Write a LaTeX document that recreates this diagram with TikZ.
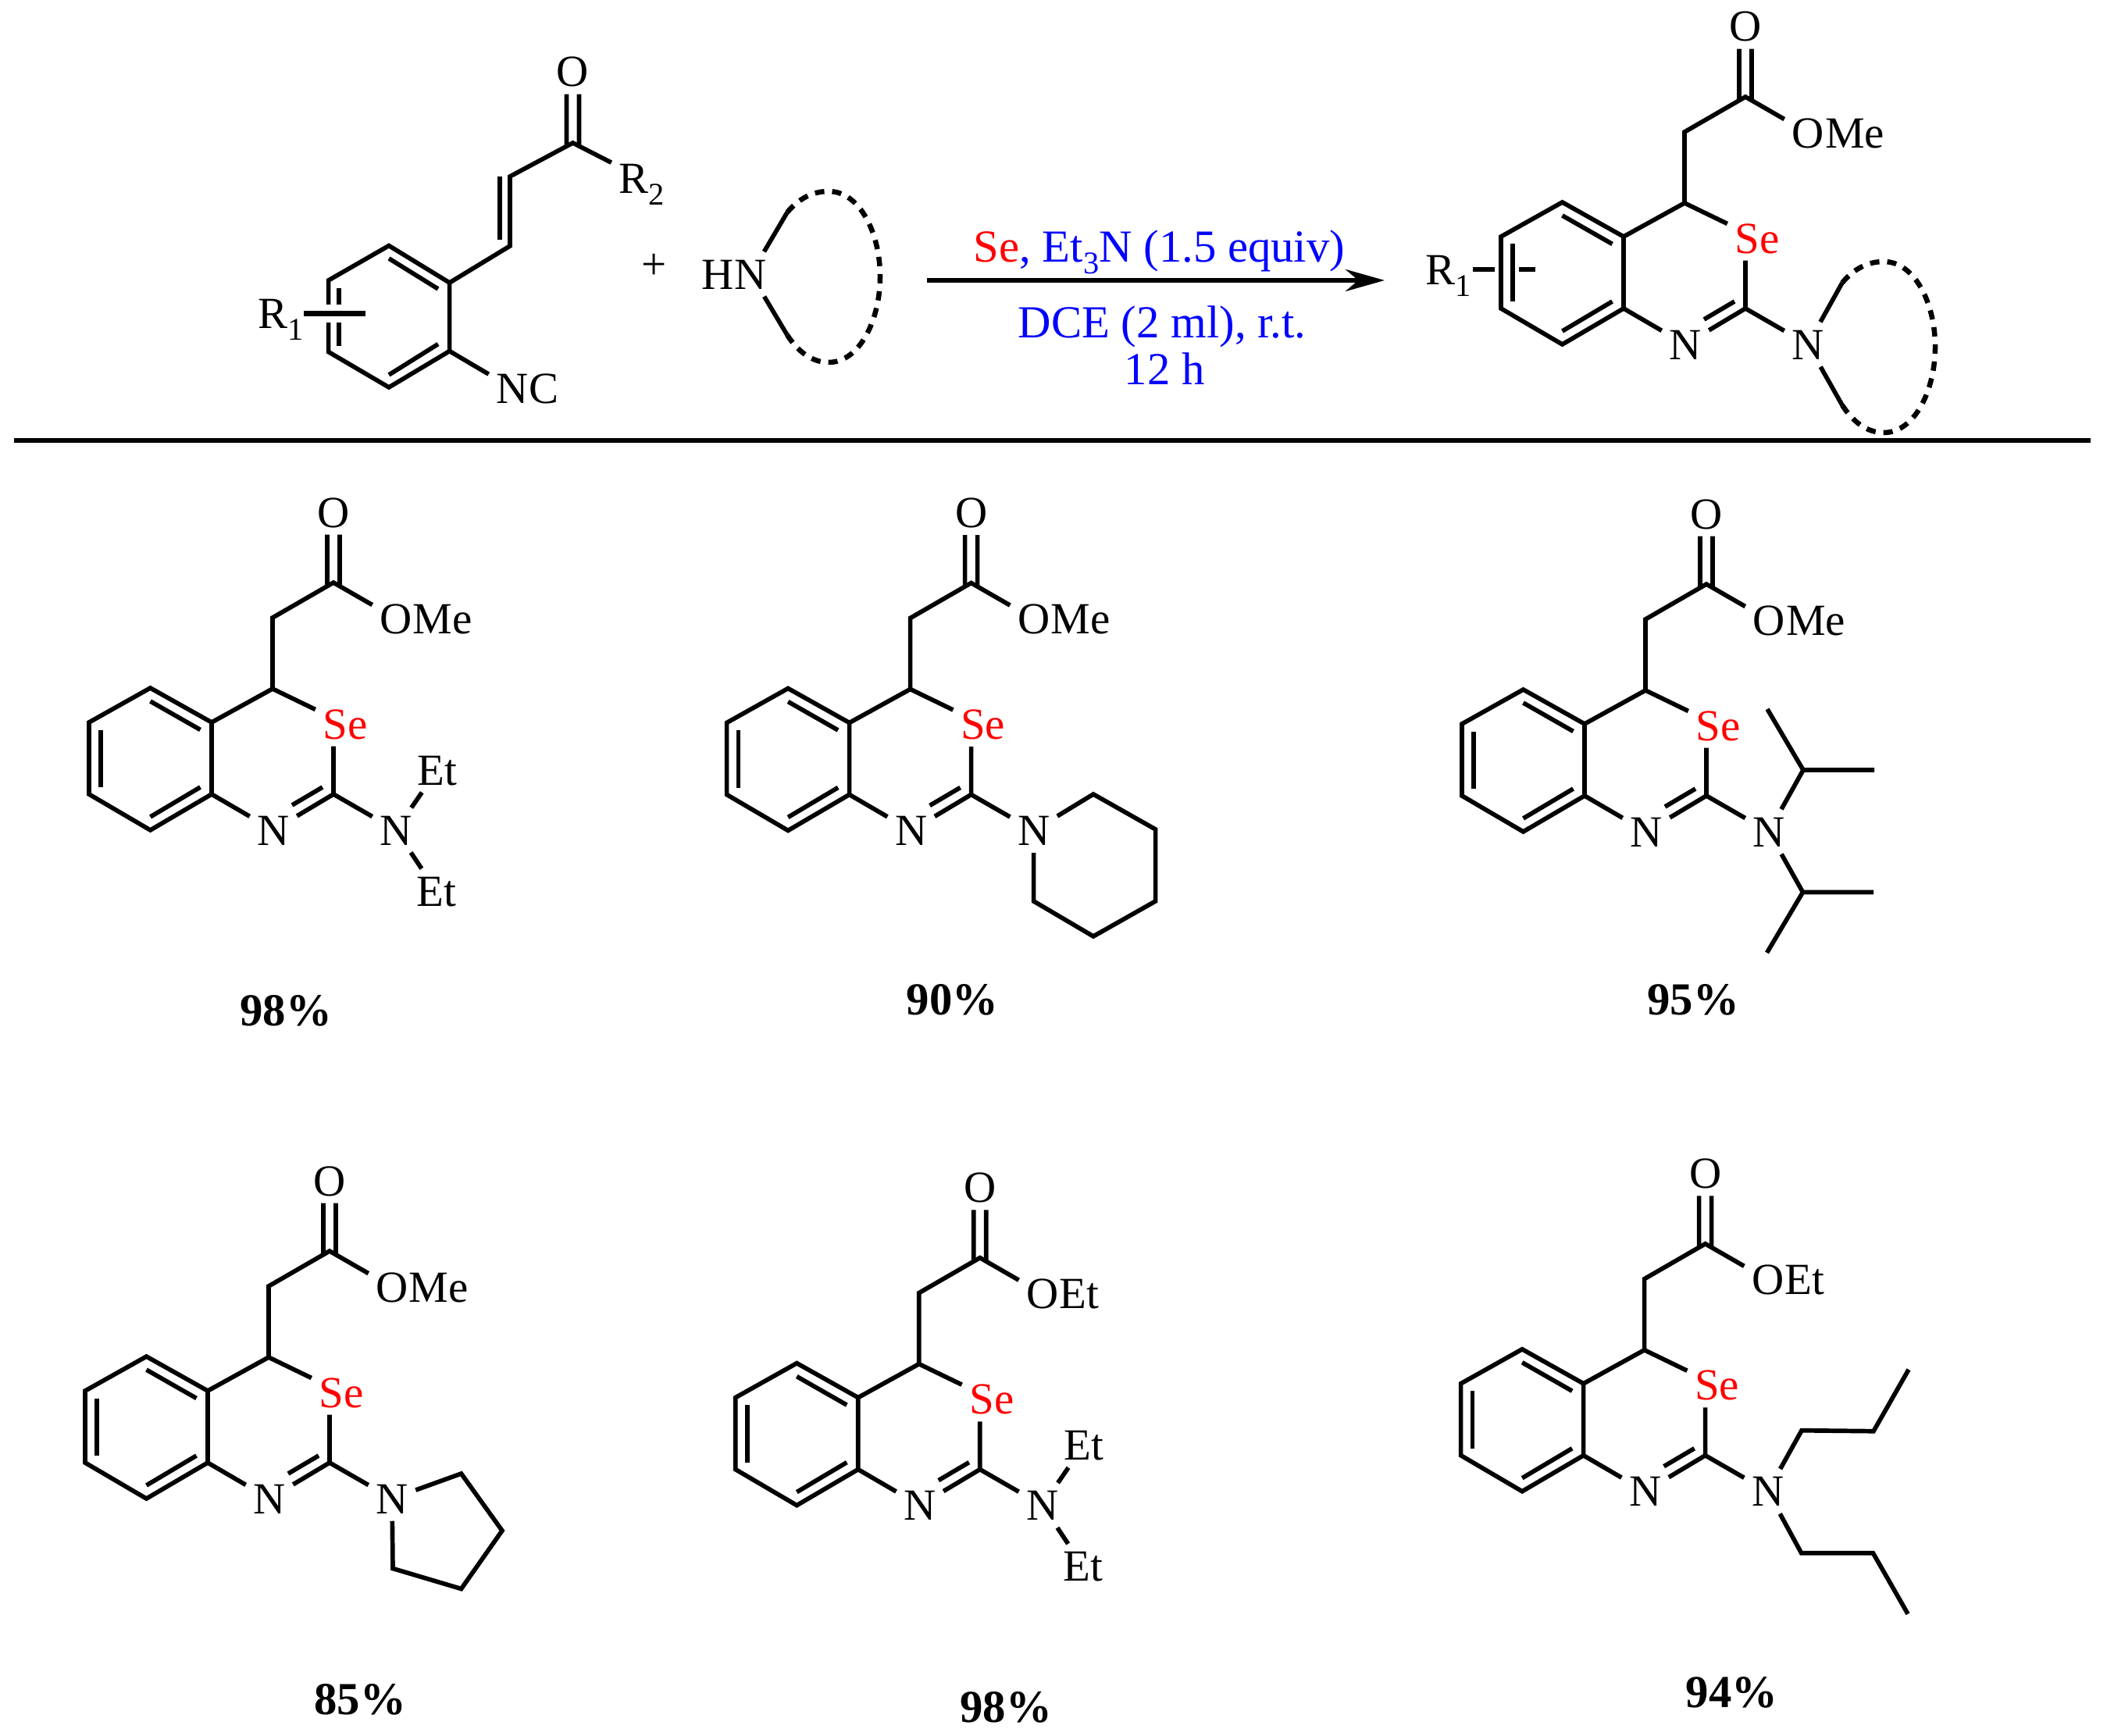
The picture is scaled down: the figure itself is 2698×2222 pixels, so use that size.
\documentclass[tikz,border=0pt]{standalone}
\usepackage{fontspec}
\usepackage{tikz}
\usetikzlibrary{arrows.meta}
\setmainfont{Liberation Serif}

\newcommand{\lowi}[1]{\raisebox{-0.15cm}{\fontsize{11.5}{12}\selectfont #1}}

\newcommand{\selenocore}[4]{%
  \begin{scope}[shift={(#2,#3)}]
    \coordinate (#1ch) at (0,0);
    \coordinate (#1ch2) at (0,-91);
    \coordinate (#1co) at (78,-136);
    \coordinate (#1a) at (-78,43);
    \coordinate (#1b) at (-78,135);
    \coordinate (#1c) at (-156.5,-1);
    \coordinate (#1d) at (-235,43);
    \coordinate (#1e) at (-235,135);
    \coordinate (#1f) at (-156.5,181);
    \coordinate (#1c2) at (78,135);
    \node[atom] (#1o) at (78,-226) {O};
    \node[atom] (#1oe) at (158,-90) {O};
    \node[tail] (#1oet) at ([xshift=-0.09cm]#1oe.base east) {#4};
    \node[atom,text=red] (#1se) at (93,45) {Se};
    \node[atom] (#1n) at (1,181) {N};
    \node[atom] (#1na) at (158,181) {N};
    \draw[bond] (#1ch) -- (#1ch2) -- (#1co) -- (#1oe);
    \draw[bond] ([shift={(-8,4)}]#1co) -- ([xshift=-0.08cm]#1o.south);
    \draw[bond] ([shift={(8,4)}]#1co) -- ([xshift=0.08cm]#1o.south);
    \draw[bond] (#1a) -- (#1c) -- (#1d) -- (#1e) -- (#1f) -- (#1b) -- cycle;
    \draw[bond] (#1a) -- (#1ch) -- (#1se);
    \draw[bond] (#1b) -- (#1n);
    \draw[bond] (#1c2 |- #1se.south) -- (#1c2) -- (#1n);
    \draw[bond] (#1c2) -- (#1na);
    \coordinate (#1i1) at (-156.5,16);
    \coordinate (#1i2) at (-92.5,52.5);
    \coordinate (#1i3) at (-220,52.5);
    \coordinate (#1i4) at (-220,126);
    \coordinate (#1i5) at (-156.5,164);
    \coordinate (#1i6) at (-92.5,126);
    \coordinate (#1i7) at (64,126);
    \coordinate (#1i8) at (25,149);
    \draw[bond] (#1i1) -- (#1i2);
    \draw[bond] (#1i3) -- (#1i4);
    \draw[bond] (#1i5) -- (#1i6);
    \draw[bond] (#1i7) -- (#1i8);
  \end{scope}}

\newcommand{\amineloop}[3]{%
  \begin{scope}[shift={(#2,#3)}]
    \coordinate (#1ls) at (-53,-82);
    \coordinate (#1le) at (-53,75);
    \draw[line width=0.065cm,dash pattern=on 0.12cm off 0.1cm] (#1ls) .. controls (-38,-100) and (-20,-109) .. (0,-109)
      .. controls (40,-109) and (66,-55) .. (66,0)
      .. controls (66,55) and (40,110) .. (0,110)
      .. controls (-20,110) and (-38,98) .. (#1le);
  \end{scope}}

\newcommand{\diethyl}[1]{%
  \node[atom] (#1eta) at ([shift={(211,104)}]#1ch) {Et};
  \node[atom] (#1etb) at ([shift={(210,259)}]#1ch) {Et};
  \draw[bond] (#1na) -- (#1eta);
  \draw[bond] (#1na) -- (#1etb);}

\begin{document}
\begin{tikzpicture}[x=0.01cm, y=-0.01cm,
    every node/.style={font=\fontsize{16.2}{19}\selectfont},
    atom/.style={inner sep=0.09cm, text height=0.38cm, text depth=0pt},
    tail/.style={inner sep=0pt, anchor=base west},
    cond/.style={inner sep=0pt, text=blue, text height=0.38cm, text depth=0pt, font=\fontsize{16.7}{19}\selectfont},
    yield/.style={inner sep=0pt, text height=0.38cm, text depth=0pt, font=\fontsize{16.7}{19}\selectfont\bfseries},
    bond/.style={line width=0.057cm}]
    \useasboundingbox (0,0) rectangle (2698,2222);

    \coordinate (rc) at (733.5,183);
    \coordinate (rv1) at (653,226);
    \coordinate (rv2) at (653,315);
    \coordinate (ra) at (575.6,362);
    \coordinate (rb) at (498,314.6);
    \coordinate (rc1) at (420.6,359);
    \coordinate (rd) at (420.6,450.6);
    \coordinate (re) at (498,496);
    \coordinate (rf) at (575.6,449.6);
    \node[atom] (ro) at (733.5,92) {O};
    \node[atom] (rr2) at (821.6,228) {R\lowi{2}};
    \node[atom] (rnc) at (656,497) {N};
    \node[tail] (rnct) at ([xshift=-0.09cm]rnc.base east) {C};
    \node[atom] (rr1) at (359.5,401.5) {R\lowi{1}};
    \draw[bond] (rc1) -- (rb) -- (ra) -- (rf) -- (re) -- (rd) -- cycle;
    \draw[bond] (ra) -- (rv2) -- (rv1) -- (rc) -- (rr2);
    \draw[bond] ([shift={(-8,4)}]rc) -- ([xshift=-0.08cm]ro.south);
    \draw[bond] ([shift={(8,4)}]rc) -- ([xshift=0.08cm]ro.south);
    \draw[bond] (rf) -- (rnc);
    \coordinate (rv3) at (640,226);
    \coordinate (rv4) at (640,307);
    \coordinate (ri1) at (498,331);
    \coordinate (ri2) at (561,370);
    \coordinate (ri3) at (434,369);
    \coordinate (ri4) at (434,443);
    \coordinate (ri5) at (498,480);
    \coordinate (ri6) at (561,440.6);
    \draw[bond] (rv3) -- (rv4);
    \draw[bond] (ri1) -- (ri2);
    \draw[bond] (ri3) -- (ri4);
    \draw[bond] (ri5) -- (ri6);
    \coordinate (rt1) at (389,401.5);
    \coordinate (rt2) at (468,401.5);
    \coordinate (rw1) at (412,401.5);
    \coordinate (rw2) at (445,401.5);
    \draw[white,line width=0.22cm] (rw1) -- (rw2);
    \draw[line width=0.066cm] (rt1) -- (rt2);

    \node[inner sep=0pt] (plus) at (838,341) {+};
    \node[atom] (hn) at (961.5,351) {N};
    \node[tail,anchor=base east] (hnh) at ([xshift=0.09cm]hn.base west) {H};
    \amineloop{u}{1061}{354}
    \draw[bond] (hn) -- (uls);
    \draw[bond] (hn) -- (ule);

    \coordinate (arrs) at (1187,359);
    \coordinate (arre) at (1773,359);
    \draw[-{Stealth[length=0.5cm,width=0.28cm]},line width=0.065cm] (arrs) -- (arre);
    \node[cond] (se) at (1484.5,316) {\textcolor{red}{Se}, Et\lowi{3}N (1.5 equiv)};
    \node[cond] (dce) at (1488,413) {DCE (2 ml), r.t.};
    \node[cond] (time) at (1491,473) {12 h};

    \selenocore{p}{2157}{260}{Me}
    \amineloop{q}{2412}{444}
    \draw[bond] (pna) -- (qls);
    \draw[bond] (pna) -- (qle);
    \node[atom] (pr1) at (1855,345) {R\lowi{1}};
    \coordinate (pt1) at (1886,345);
    \coordinate (pt2) at (1914,345);
    \coordinate (pt3) at (1945,345);
    \coordinate (pt4) at (1966,345);
    \draw[line width=0.066cm] (pt1) -- (pt2);
    \draw[line width=0.066cm] (pt3) -- (pt4);

    \coordinate (rulea) at (18,564);
    \coordinate (ruleb) at (2677,564);
    \draw[line width=0.06cm] (rulea) -- (ruleb);

    \selenocore{a}{349}{882}{Me}
    \diethyl{a}
    \node[yield] (ay) at (366,1294) {98\%};

    \selenocore{b}{1165.6}{882.5}{Me}
    \coordinate (b1) at ([shift={(234.4,134.5)}]bch);
    \coordinate (b2) at ([shift={(314,179.5)}]bch);
    \coordinate (b3) at ([shift={(314,271.5)}]bch);
    \coordinate (b4) at ([shift={(234.4,316.5)}]bch);
    \coordinate (b5) at ([shift={(158,271.5)}]bch);
    \draw[bond] (bna) -- (b1) -- (b2) -- (b3) -- (b4) -- (b5) -- (bna);
    \node[yield] (by) at (1219.6,1280) {90\%};

    \selenocore{c}{2107}{884}{Me}
    \coordinate (c1) at ([shift={(202,102)}]cch);
    \coordinate (c2) at ([shift={(293,102)}]cch);
    \coordinate (c3) at ([shift={(156,24)}]cch);
    \coordinate (c4) at ([shift={(201.5,258.5)}]cch);
    \coordinate (c5) at ([shift={(292,258.5)}]cch);
    \coordinate (c6) at ([shift={(155.5,336)}]cch);
    \draw[bond] (cna) -- (c1) -- (c2);
    \draw[bond] (c1) -- (c3);
    \draw[bond] (cna) -- (c4) -- (c5);
    \draw[bond] (c4) -- (c6);
    \node[yield] (cy) at (2168,1280) {95\%};

    \selenocore{d}{344}{1738}{Me}
    \coordinate (d1) at ([shift={(246.6,149)}]dch);
    \coordinate (d2) at ([shift={(299,222)}]dch);
    \coordinate (d3) at ([shift={(246.6,296.5)}]dch);
    \coordinate (d4) at ([shift={(159,270.5)}]dch);
    \draw[bond] (dna) -- (d1) -- (d2) -- (d3) -- (d4) -- (dna);
    \node[yield] (dy) at (461,2176) {85\%};

    \selenocore{e}{1176.8}{1746.6}{Et}
    \diethyl{e}
    \node[yield] (ey) at (1288,2186.5) {98\%};

    \selenocore{f}{2105.6}{1728.7}{Et}
    \coordinate (f1) at ([shift={(201.4,103)}]fch);
    \coordinate (f2) at ([shift={(293.4,104)}]fch);
    \coordinate (f3) at ([shift={(338.4,25)}]fch);
    \coordinate (f4) at ([shift={(201,260)}]fch);
    \coordinate (f5) at ([shift={(292.8,260)}]fch);
    \coordinate (f6) at ([shift={(337.4,338)}]fch);
    \draw[bond] (fna) -- (f1) -- (f2) -- (f3);
    \draw[bond] (fna) -- (f4) -- (f5) -- (f6);
    \node[yield] (fy) at (2217.4,2167.6) {94\%};
\end{tikzpicture}
\end{document}
